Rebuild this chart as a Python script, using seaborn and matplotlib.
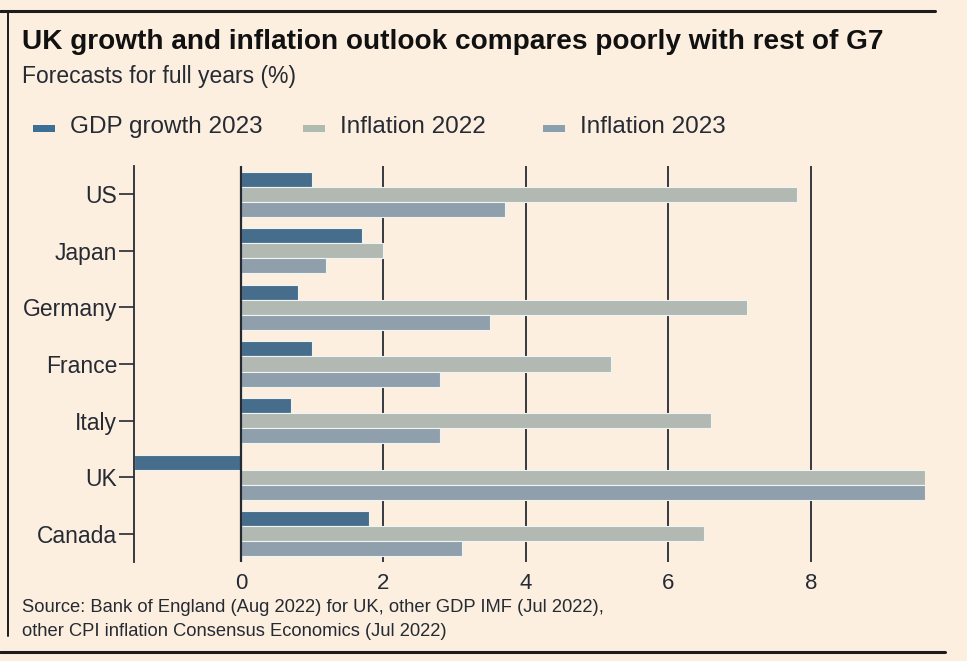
import matplotlib
matplotlib.use("Agg")
import matplotlib.pyplot as plt
import seaborn as sns
import pandas as pd
from matplotlib.lines import Line2D
from matplotlib.patches import Rectangle
from matplotlib import font_manager

countries = ["US", "Japan", "Germany", "France", "Italy", "UK", "Canada"]
gdp_2023 = [1.0, 1.7, 0.8, 1.0, 0.7, -1.5, 1.8]
infl_2022 = [7.8, 2.0, 7.1, 5.2, 6.6, 9.6, 6.5]
infl_2023 = [3.7, 1.2, 3.5, 2.8, 2.8, 9.6, 3.1]
series = ["GDP growth 2023", "Inflation 2022", "Inflation 2023"]
xticks = [0, 2, 4, 6, 8]

title = "UK growth and inflation outlook compares poorly with rest of G7"
subtitle = "Forecasts for full years (%)"
source1 = "Source: Bank of England (Aug 2022) for UK, other GDP IMF (Jul 2022),"
source2 = "other CPI inflation Consensus Economics (Jul 2022)"

BG = "#fcefe0"
DARK = "#262a33"
colors = ["#3b6f96", "#afbbb1", "#8aa0b0"]

names = {f.name for f in font_manager.fontManager.ttflist}
fam = ["Liberation Sans Narrow", "DejaVu Sans"] if "Liberation Sans Narrow" in names else ["Liberation Sans", "DejaVu Sans"]

sns.set_theme(style="white")
plt.rcParams["font.family"] = fam

rows = []
for i, c in enumerate(countries):
    rows.append((c, series[0], gdp_2023[i]))
    rows.append((c, series[1], infl_2022[i]))
    rows.append((c, series[2], infl_2023[i]))
df = pd.DataFrame(rows, columns=["country", "series", "value"])

W, H = 967, 661
fig = plt.figure(figsize=(W / 100, H / 100), dpi=100, facecolor=BG)
ax = fig.add_axes([134 / W, 1 - 562 / H, (925 - 134) / W, (562 - 166) / H])
ax.set_facecolor(BG)

sns.barplot(data=df, y="country", x="value", hue="series", order=countries,
            hue_order=series, palette=colors, orient="h", errorbar=None,
            width=0.8, edgecolor="#eef3f3", linewidth=0.8, ax=ax, zorder=2)
if ax.get_legend() is not None:
    ax.get_legend().remove()

ax.set_xlim(-1.5, 9.6)
ax.set_ylim(6.5, -0.5)
ax.set_xticks(xticks)
ax.set_xticklabels([str(t) for t in xticks])
ax.grid(axis="x", color=DARK, lw=1.3, zorder=0)
ax.grid(axis="y", visible=False)
ax.set_axisbelow(True)
ax.axvline(0, color=DARK, lw=1.6, zorder=4)
for s in ["top", "right", "bottom"]:
    ax.spines[s].set_visible(False)
ax.spines["left"].set_color(DARK)
ax.spines["left"].set_linewidth(1.3)
ax.set_xlabel("")
ax.set_ylabel("")
ax.tick_params(axis="x", length=0, pad=8, labelsize=16, labelcolor=DARK)
ax.tick_params(axis="y", length=11, width=1.2, color=DARK, pad=1, labelsize=16.5,
               labelcolor=DARK, left=True)

def px(x, y):
    return x / W, 1 - y / H

fig.text(*px(22, 42), title, fontsize=20.2, fontweight="bold", color="#111",
         va="center", ha="left")
fig.text(*px(22, 76), subtitle, fontsize=16.5, color=DARK, va="center", ha="left")
fig.text(*px(22, 608), source1, fontsize=13.2, color=DARK, va="center", ha="left")
fig.text(*px(22, 632), source2, fontsize=13.2, color=DARK, va="center", ha="left")

# legend (manual placement to match the reference spacing)
leg_x = [33, 303, 543]
for lx, lab, col in zip(leg_x, series, colors):
    fig.add_artist(Rectangle(px(lx, 131.5), 22 / W, 7 / H, facecolor=col,
                             edgecolor="none", transform=fig.transFigure))
    fig.text(*px(lx + 37, 127), lab, fontsize=17.5, color=DARK,
             va="center", ha="left")

fig.add_artist(Line2D([0, 935 / W], [1 - 11 / H] * 2, color="#1c1c1c", lw=2.2,
                      transform=fig.transFigure))
fig.add_artist(Line2D([8 / W] * 2, [1 - 11 / H, 1 - 636 / H], color="#1c1c1c",
                      lw=1.4, transform=fig.transFigure))
fig.add_artist(Line2D([0, 945 / W], [1 - 652 / H] * 2, color="#1c1c1c", lw=2.2,
                      transform=fig.transFigure))

fig.savefig("out.png", dpi=100, facecolor=BG)
